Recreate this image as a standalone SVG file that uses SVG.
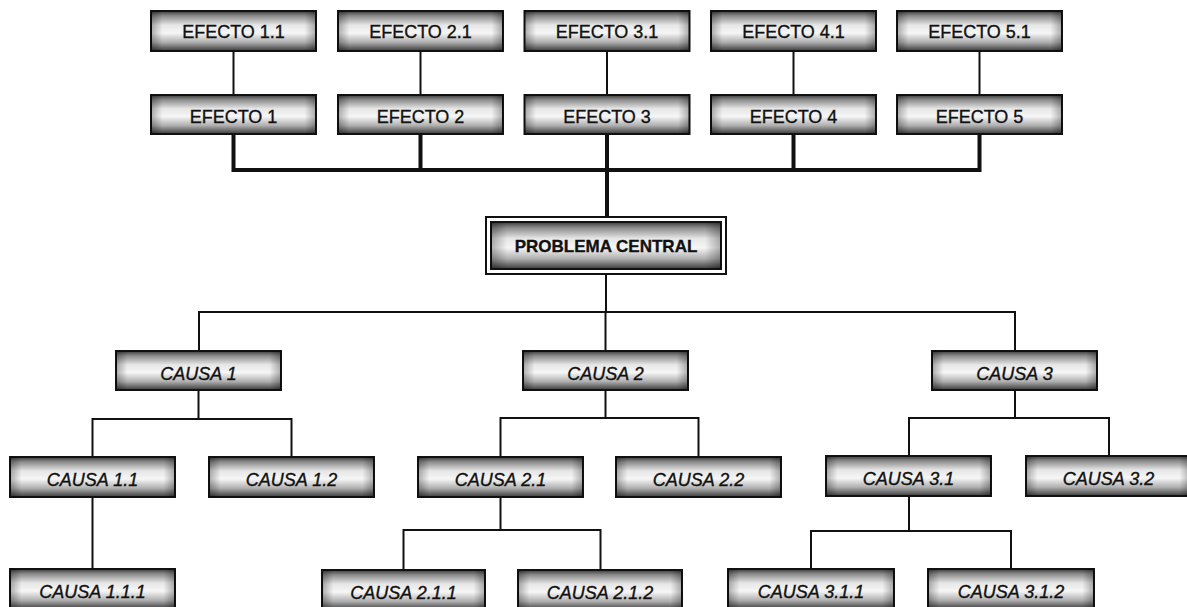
<svg xmlns="http://www.w3.org/2000/svg" width="1187" height="607" viewBox="0 0 1187 607">
<defs>
<linearGradient id="gv" x1="0" y1="0" x2="0" y2="1">
<stop offset="0" stop-color="#3a3a3a"/>
<stop offset="0.12" stop-color="#8a8a8a"/>
<stop offset="0.35" stop-color="#e6e6e6"/>
<stop offset="0.55" stop-color="#f6f6f6"/>
<stop offset="0.78" stop-color="#b0b0b0"/>
<stop offset="1" stop-color="#3a3a3a"/>
</linearGradient>
<linearGradient id="gh" x1="0" y1="0" x2="1" y2="0">
<stop offset="0" stop-color="#000" stop-opacity="0.3"/>
<stop offset="0.07" stop-color="#000" stop-opacity="0"/>
<stop offset="0.93" stop-color="#000" stop-opacity="0"/>
<stop offset="1" stop-color="#000" stop-opacity="0.3"/>
</linearGradient>
</defs>
<style>
.b{fill:url(#gv);stroke:#111;stroke-width:2}
.o{fill:url(#gh);stroke:none}
.t{font-family:"Liberation Sans",Arial,sans-serif;font-size:18px;fill:#111;stroke:#111;stroke-width:0.35px;text-anchor:middle}
.i{font-style:italic}
.pb{font-weight:bold;font-size:17px}
.c{fill:none;stroke:#111;stroke-width:2}
.k{fill:none;stroke:#111;stroke-width:4}
.fr{fill:none;stroke:#111;stroke-width:2}
</style>
<rect width="1187" height="607" fill="#fff"/>
<g id="connectors">
<path class="c" d="M233.5 51V95M420.5 51V95M607 51V95M793.5 51V95M979.5 51V95"/>
<path class="k" d="M233.5 134V170H979.5V134M420.5 134V170M793.5 134V170M607 134V217"/>
<path class="c" d="M606 274V312M199 351V312H1015V351M605.5 312V351"/>
<path class="c" d="M198.5 390V419M92.5 457V419H291.5V457M92.5 497V569"/>
<path class="c" d="M605.5 390V418M500.5 457V418H698.5V457M500.5 497V530M403.5 570V530H600.5V570"/>
<path class="c" d="M1015 390V418M909 457V418H1109V456M909 496V531M811 569V531H1011V569"/>
</g>
<g id="efecto11"><rect class="b" x="151" y="11" width="165" height="40"/><rect class="o" x="151" y="11" width="165" height="40"/><text class="t" x="233.5" y="38">EFECTO 1.1</text></g>
<g id="efecto21"><rect class="b" x="338" y="11" width="165" height="40"/><rect class="o" x="338" y="11" width="165" height="40"/><text class="t" x="420.5" y="38">EFECTO 2.1</text></g>
<g id="efecto31"><rect class="b" x="524.5" y="11" width="165" height="40"/><rect class="o" x="524.5" y="11" width="165" height="40"/><text class="t" x="607" y="38">EFECTO 3.1</text></g>
<g id="efecto41"><rect class="b" x="711" y="11" width="165" height="40"/><rect class="o" x="711" y="11" width="165" height="40"/><text class="t" x="793.5" y="38">EFECTO 4.1</text></g>
<g id="efecto51"><rect class="b" x="897" y="11" width="165" height="40"/><rect class="o" x="897" y="11" width="165" height="40"/><text class="t" x="979.5" y="38">EFECTO 5.1</text></g>
<g id="efecto1"><rect class="b" x="151" y="95" width="165" height="39"/><rect class="o" x="151" y="95" width="165" height="39"/><text class="t" x="233.5" y="123">EFECTO 1</text></g>
<g id="efecto2"><rect class="b" x="338" y="95" width="165" height="39"/><rect class="o" x="338" y="95" width="165" height="39"/><text class="t" x="420.5" y="123">EFECTO 2</text></g>
<g id="efecto3"><rect class="b" x="524.5" y="95" width="165" height="39"/><rect class="o" x="524.5" y="95" width="165" height="39"/><text class="t" x="607" y="123">EFECTO 3</text></g>
<g id="efecto4"><rect class="b" x="711" y="95" width="165" height="39"/><rect class="o" x="711" y="95" width="165" height="39"/><text class="t" x="793.5" y="123">EFECTO 4</text></g>
<g id="efecto5"><rect class="b" x="897" y="95" width="165" height="39"/><rect class="o" x="897" y="95" width="165" height="39"/><text class="t" x="979.5" y="123">EFECTO 5</text></g>
<g id="problema">
<rect class="fr" x="486" y="217" width="240" height="57" fill="#fff"/>
<rect class="b" x="491" y="222" width="230" height="47"/><rect class="o" x="491" y="222" width="230" height="47"/>
<text class="t pb" x="606" y="252">PROBLEMA CENTRAL</text>
</g>
<g id="causa1"><rect class="b" x="116" y="351" width="165" height="39"/><rect class="o" x="116" y="351" width="165" height="39"/><text class="t i" x="198.5" y="380">CAUSA 1</text></g>
<g id="causa2"><rect class="b" x="523" y="351" width="165" height="39"/><rect class="o" x="523" y="351" width="165" height="39"/><text class="t i" x="605.5" y="380">CAUSA 2</text></g>
<g id="causa3"><rect class="b" x="932" y="351" width="165" height="39"/><rect class="o" x="932" y="351" width="165" height="39"/><text class="t i" x="1014.5" y="380">CAUSA 3</text></g>
<g id="causa11"><rect class="b" x="10" y="457" width="165" height="40"/><rect class="o" x="10" y="457" width="165" height="40"/><text class="t i" x="92.5" y="486">CAUSA 1.1</text></g>
<g id="causa12"><rect class="b" x="209" y="457" width="165" height="40"/><rect class="o" x="209" y="457" width="165" height="40"/><text class="t i" x="291.5" y="486">CAUSA 1.2</text></g>
<g id="causa21"><rect class="b" x="418" y="457" width="165" height="40"/><rect class="o" x="418" y="457" width="165" height="40"/><text class="t i" x="500.5" y="486">CAUSA 2.1</text></g>
<g id="causa22"><rect class="b" x="616" y="457" width="165" height="40"/><rect class="o" x="616" y="457" width="165" height="40"/><text class="t i" x="698.5" y="486">CAUSA 2.2</text></g>
<g id="causa31"><rect class="b" x="826" y="456" width="165" height="40"/><rect class="o" x="826" y="456" width="165" height="40"/><text class="t i" x="908.5" y="485">CAUSA 3.1</text></g>
<g id="causa32"><rect class="b" x="1026" y="456" width="165" height="40"/><rect class="o" x="1026" y="456" width="165" height="40"/><text class="t i" x="1108.5" y="485">CAUSA 3.2</text></g>
<g id="causa111"><rect class="b" x="10" y="569" width="165" height="40"/><rect class="o" x="10" y="569" width="165" height="40"/><text class="t i" x="92.5" y="598">CAUSA 1.1.1</text></g>
<g id="causa211"><rect class="b" x="322" y="570" width="163" height="40"/><rect class="o" x="322" y="570" width="163" height="40"/><text class="t i" x="403.5" y="599">CAUSA 2.1.1</text></g>
<g id="causa212"><rect class="b" x="518" y="570" width="164" height="40"/><rect class="o" x="518" y="570" width="164" height="40"/><text class="t i" x="600" y="599">CAUSA 2.1.2</text></g>
<g id="causa311"><rect class="b" x="728" y="569" width="166" height="40"/><rect class="o" x="728" y="569" width="166" height="40"/><text class="t i" x="811" y="598">CAUSA 3.1.1</text></g>
<g id="causa312"><rect class="b" x="928" y="569" width="166" height="40"/><rect class="o" x="928" y="569" width="166" height="40"/><text class="t i" x="1011" y="598">CAUSA 3.1.2</text></g>
</svg>
